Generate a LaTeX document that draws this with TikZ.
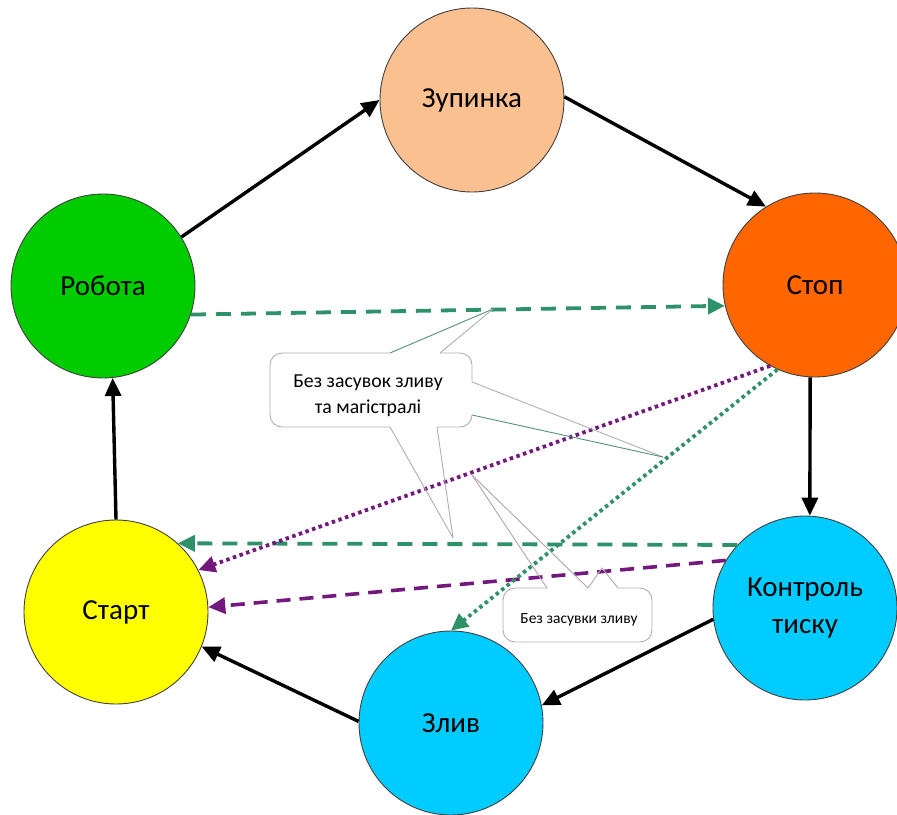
\documentclass[tikz,border=0pt]{standalone}
\usepackage{fontspec}
\setmainfont{Carlito}
\usetikzlibrary{arrows.meta}
\definecolor{cpeach}{RGB}{250,192,144}
\definecolor{cgreen}{RGB}{0,204,0}
\definecolor{corange}{RGB}{255,102,0}
\definecolor{cyellow}{RGB}{255,255,0}
\definecolor{cblue}{RGB}{0,204,255}
\definecolor{dgreen}{RGB}{46,145,105}
\definecolor{dpurple}{RGB}{115,25,125}
\definecolor{tealline}{RGB}{85,145,115}
\definecolor{grayline}{RGB}{175,175,175}
\definecolor{mauveline}{RGB}{180,160,180}
\begin{document}
\begin{tikzpicture}[x=1pt,y=-1pt,
  state/.style={circle, draw=black!75, line width=0.9pt, minimum size=184pt, inner sep=0pt,
    font=\fontsize{29}{37}\selectfont, align=center},
  blackarrow/.style={line width=3.4pt, -{Triangle[length=18pt,width=16pt]}},
  greendash/.style={line width=3.8pt, draw=dgreen, dash pattern=on 15pt off 10pt,
    -{Triangle[length=17pt,width=16pt,fill=dgreen]}},
  greendot/.style={line width=3.8pt, draw=dgreen, dash pattern=on 3.5pt off 3.5pt,
    -{Triangle[length=17pt,width=16pt,fill=dgreen]}},
  purpledot/.style={line width=3.8pt, draw=dpurple, dash pattern=on 3.5pt off 3.5pt,
    -{Triangle[length=17pt,width=16pt,fill=dpurple]}},
  purpledash/.style={line width=3.6pt, draw=dpurple, dash pattern=on 14pt off 9pt,
    -{Triangle[length=17pt,width=16pt,fill=dpurple]}},
  callout/.style={draw=grayline, line width=0.9pt, fill=white, rounded corners=12pt, inner sep=0pt},
  calltext/.style={align=center, inner sep=0pt},
  cover/.style={draw=white, line width=2pt},
  tail/.style={line width=0.9pt}]
\path[use as bounding box, clip] (0,0) rectangle (897,814);

% states
\node[state, fill=cpeach]  (zup)   at (472,100) {Зупинка};
\node[state, fill=cgreen]  (rob)   at (103,286) {Робота};
\node[state, fill=corange] (stop)  at (815,285) {Стоп};
\node[state, fill=cyellow] (start) at (116,612) {Старт};
\node[state, fill=cblue]   (kon)   at (805,608) {Контроль\\тиску};
\node[state, fill=cblue]   (zliv)  at (451,723) {Злив};

% main cycle
\draw[blackarrow] (rob.32) -- (zup.west);
\draw[blackarrow] (zup.2) -- (stop.122);
\draw[blackarrow] (stop.267) -- (kon.87);
\draw[blackarrow] (kon.187) -- (zliv.11);
\draw[blackarrow] (zliv.179) -- (start.338);
\draw[blackarrow] (start.90) -- (rob.276);

% coloured transitions
\draw[greendash] (rob.-18) -- (stop.193);
\draw[greendash] (kon.137) -- (start.48);
\draw[purpledot] (stop.241) -- (start.27);
\draw[purpledash] (kon.149) -- (start.3);
\draw[greendot] (stop.246) -- (zliv.90);

% callout 1
\node[callout, minimum width=202pt, minimum height=74pt] (c1) at (371,390) {};
\node[calltext, font=\fontsize{19.8}{26}\selectfont] (c1text) at (368,396) {Без засувок зливу\\та магістралі};
\coordinate (t1) at (493,309);
\coordinate (t2) at (663,457);
\coordinate (t3) at (453,538);
\coordinate (b1a) at (390,353);
\coordinate (b1b) at (440,353);
\coordinate (b2a) at (472,382);
\coordinate (b2b) at (472,415);
\coordinate (b3a) at (390,427);
\coordinate (b3b) at (437,427);
\draw[cover] (b1a) -- (b1b);
\draw[cover] (b2a) -- (b2b);
\draw[cover] (b3a) -- (b3b);
\draw[tail, draw=tealline] (b1a) -- (t1);
\draw[tail, draw=grayline] (b1b) -- (t1);
\draw[tail, draw=grayline] (b2a) -- (t2);
\draw[tail, draw=tealline] (b2b) -- (t2);
\draw[tail, draw=grayline] (b3a) -- (t3);
\draw[tail, draw=grayline] (b3b) -- (t3);

% callout 2
\node[callout, minimum width=149pt, minimum height=54pt] (c2) at (577.5,615) {};
\node[calltext, font=\fontsize{15.5}{19}\selectfont] (c2text) at (579,620) {Без засувки зливу};
\coordinate (t4) at (472,475);
\coordinate (t5) at (602,568);
\coordinate (b4a) at (547,588);
\coordinate (b4b) at (588,588);
\coordinate (b5b) at (618,588);
\draw[cover] (b4a) -- (b5b);
\draw[tail, draw=mauveline] (b4a) -- (t4);
\draw[tail, draw=mauveline] (b4b) -- (t4);
\draw[tail, draw=grayline] (b4b) -- (t5) -- (b5b);
\end{tikzpicture}
\end{document}
